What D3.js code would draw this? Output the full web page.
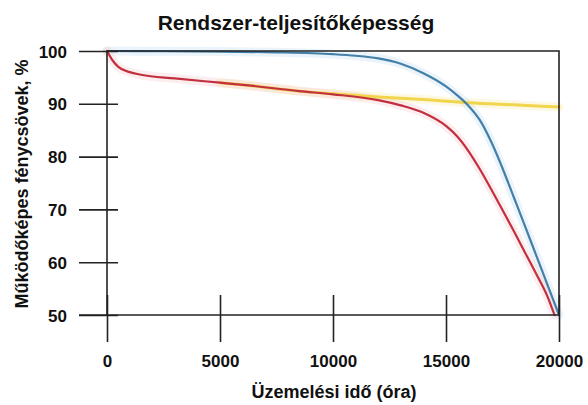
<!DOCTYPE html>
<html>
<head>
<meta charset="utf-8">
<script src="https://cdn.jsdelivr.net/npm/d3@7"></script>
<style>
  body { margin: 0; background: #fff; }
  text { font-family: "Liberation Sans", Arial, Helvetica, sans-serif; font-weight: bold; fill: #111; }
</style>
</head>
<body>
<div id="chart"></div>
<script>
// data (hours -> % working lamps)
var hours = [0, 2500, 5000, 7500, 10000, 11000, 12000, 13000, 14000, 15000, 15500, 16000, 16500, 17000, 17500, 18000, 18500, 19000, 19500, 20000];
var blueVals = [100, 99.95, 99.9, 99.75, 99.4, 99.1, 98.6, 97.6, 95.8, 93.3, 91.6, 89.6, 86.9, 82.8, 77.8, 72.3, 66.8, 61.2, 55.6, 50];
var redHours = [0, 250, 500, 1000, 1500, 3000, 5000, 6000, 8500, 10000, 12000, 13000, 14000, 15000, 15500, 16000, 16500, 17000, 17500, 18000, 18500, 19000, 19500, 19800];
var redVals = [100, 98.2, 97, 96, 95.5, 94.8, 94, 93.6, 92.4, 91.8, 90.7, 89.7, 88.3, 85.8, 83.8, 81, 77.6, 73.8, 69.9, 65.9, 61.8, 57.7, 53.4, 50];
var yellowHours = [5000, 6000, 8500, 10000, 12000, 14000, 16000, 18000, 20000];
var yellowVals = [94, 93.6, 92.4, 91.9, 91.3, 90.8, 90.2, 89.8, 89.4];
var xTicks = [0, 5000, 10000, 15000, 20000];
var yTicks = [50, 60, 70, 80, 90, 100];

drawChart();

function drawChart() {
  var W = 588, H = 405;
  var mLeft = 107, mRight = 559, mTop = 51, mBottom = 315;

  var svg = d3.select("#chart").append("svg").attr("width", W).attr("height", H);

  var x = d3.scaleLinear().domain([0, 20000]).range([mLeft, mRight]);
  var y = d3.scaleLinear().domain([50, 100]).range([mBottom, mTop]);

  // title
  svg.append("text").attr("x", 296).attr("y", 30).attr("text-anchor", "middle")
     .style("font-size", "21px").text("Rendszer-teljesítőképesség");

  // lines
  var line = d3.line().x(function(d) { return x(d[0]); }).y(function(d) { return y(d[1]); })
    .curve(d3.curveMonotoneX);

  var series = [
    {h: yellowHours, v: yellowVals, color: "#f1d54c", halo: "#f7e9a0", w: 3},
    {h: hours, v: blueVals, color: "#447fa8", halo: "#bcdcef", w: 2.2},
    {h: redHours, v: redVals, color: "#c2303f", halo: "#f4c2c8", w: 2.2}
  ];

  var plot = svg.append("g");
  series.forEach(function(s) {
    var pts = s.h.map(function(hh, i) { return [hh, s.v[i]]; });
    plot.append("path").datum(pts).attr("d", line).attr("fill", "none")
        .attr("stroke", s.halo).attr("stroke-width", 9).attr("stroke-opacity", 0.3)
        .attr("stroke-linecap", "round");
  });
  series.forEach(function(s) {
    var pts = s.h.map(function(hh, i) { return [hh, s.v[i]]; });
    plot.append("path").datum(pts).attr("d", line).attr("fill", "none")
        .attr("stroke", s.color).attr("stroke-width", s.w).attr("stroke-linecap", "round");
  });

  // frame: top and right border
  svg.append("path")
     .attr("d", "M" + mLeft + "," + mTop + "H" + mRight + "V" + mBottom)
     .attr("fill", "none").attr("stroke", "#222").attr("stroke-width", 1.6);

  // y axis
  var yAxis = d3.axisLeft(y).tickValues(yTicks).tickSize(0).tickPadding(0).tickFormat(d3.format("d"));
  var gy = svg.append("g").attr("transform", "translate(" + mLeft + ",0)").call(yAxis);
  gy.select(".domain").remove();
  gy.selectAll(".tick text").attr("x", -40).attr("dy", "0.36em")
    .style("font-size", "17px").style("font-family", "Liberation Sans, Arial, sans-serif")
    .style("font-weight", "bold").attr("fill", "#111");
  gy.selectAll(".tick").append("line").attr("x1", -28).attr("x2", 11)
    .attr("stroke", "#222").attr("stroke-width", 1.6);
  svg.append("line").attr("x1", mLeft).attr("x2", mLeft).attr("y1", mTop).attr("y2", mBottom)
     .attr("stroke", "#222").attr("stroke-width", 1.6);

  // x axis
  var xAxis = d3.axisBottom(x).tickValues(xTicks).tickSize(0).tickPadding(0).tickFormat(d3.format("d"));
  var gx = svg.append("g").attr("transform", "translate(0," + mBottom + ")").call(xAxis);
  gx.select(".domain").remove();
  gx.selectAll(".tick text").attr("y", 52).attr("dy", 0)
    .style("font-size", "17px").style("font-family", "Liberation Sans, Arial, sans-serif")
    .style("font-weight", "bold").attr("fill", "#111");
  gx.selectAll(".tick").append("line").attr("y1", -20).attr("y2", 27)
    .attr("stroke", "#222").attr("stroke-width", 1.6);
  svg.append("line").attr("x1", mLeft - 28).attr("x2", mRight).attr("y1", mBottom).attr("y2", mBottom)
     .attr("stroke", "#222").attr("stroke-width", 1.6);

  // axis titles
  svg.append("text").attr("x", 334).attr("y", 398).attr("text-anchor", "middle")
     .style("font-size", "18px").text("Üzemelési idő (óra)");
  svg.append("text").attr("transform", "translate(28,184) rotate(-90)").attr("text-anchor", "middle")
     .style("font-size", "18px").text("Működőképes fénycsövek, %");
}
</script>
</body>
</html>
